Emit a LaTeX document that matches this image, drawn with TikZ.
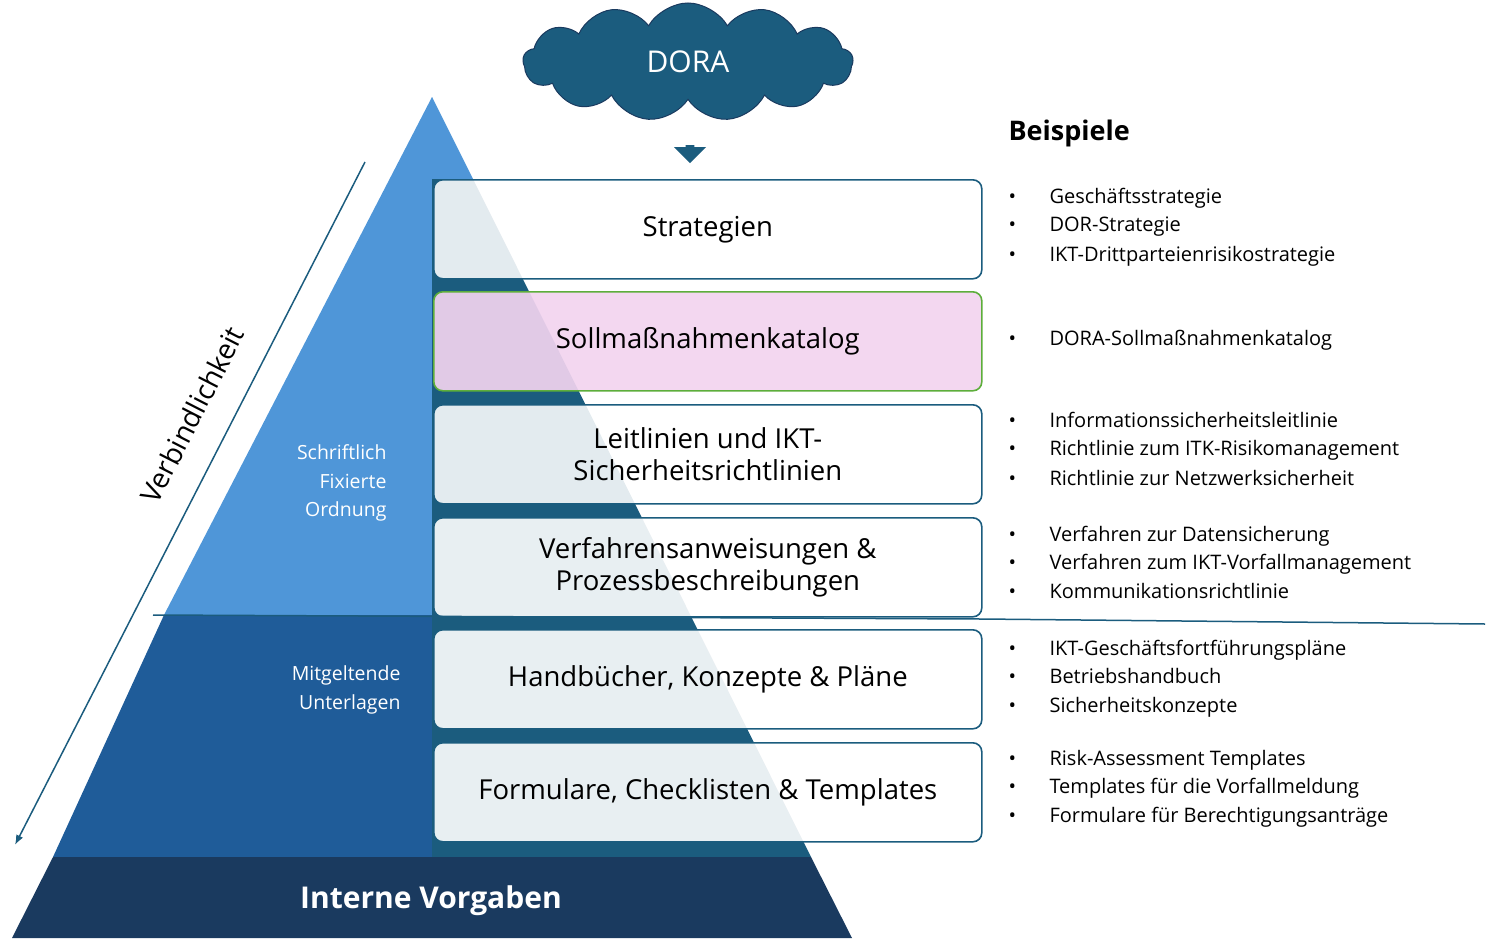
\documentclass[tikz,border=0pt]{standalone}
\usepackage{fontspec}
\setmainfont{Open Sans}
\usetikzlibrary{shapes.symbols,shapes.arrows,arrows.meta}
\definecolor{teal}{HTML}{1B5C7E}
\definecolor{lb}{HTML}{4F96D8}
\definecolor{mb}{HTML}{1F5C99}
\definecolor{nb}{HTML}{1A3A5F}
\definecolor{pk}{HTML}{F2D4EF}
\definecolor{gr}{HTML}{5DAE3B}
\begin{document}
\begin{tikzpicture}[x=1pt,y=-1pt,
  box/.style={draw=teal,line width=1.6pt,rounded corners=9pt,fill=white,fill opacity=0.88,text opacity=1,minimum width=548pt,minimum height=99pt,anchor=north west,align=center,font=\fontsize{27.5}{32}\selectfont},
  bl/.style={anchor=west,font=\fontsize{20}{22}\selectfont,align=left,text height=15pt,text depth=5pt},
  lab/.style={text=white,align=right,anchor=east,font=\fontsize{19.5}{28.5}\selectfont}]
\useasboundingbox (0,0) rectangle (1488,945);
% pyramid
\fill[lb] (432,97) -- (432,615) -- (164,615) -- cycle;
\fill[lb] (432,97) -- (473,179) -- (432,179) -- cycle;
\fill[mb] (164,615) -- (432,615) -- (432,857) -- (53,857) -- cycle;
\fill[teal] (432,179) -- (473,179) -- (811,857) -- (432,857) -- cycle;
\fill[nb] (53,857) -- (811,857) -- (852,938) -- (12,938) -- cycle;
\node[text=white,font=\bfseries\fontsize{30}{32}\selectfont] (iv) at (431,901) {Interne Vorgaben};
% boxes
\node[box] (s1) at (433,179) {Strategien};
\node[box,fill=pk,draw=gr,fill opacity=0.92] (s2) at (433,291) {Sollmaßnahmenkatalog};
\node[box] (s3) at (433,404) {Leitlinien und IKT-\\Sicherheitsrichtlinien};
\node[box,fill opacity=0.9] (s4) at (433,517) {Verfahrensanweisungen \&\\Prozessbeschreibungen};
\node[box,fill opacity=0.9] (s5) at (433,629) {Handbücher, Konzepte \& Pläne};
\node[box,fill opacity=0.9] (s6) at (433,742) {Formulare, Checklisten \& Templates};
% divider
\coordinate (d1) at (153,615);
\coordinate (d2) at (1485,624);
\draw[teal,line width=1.5pt] (d1) -- (981,619) -- (d2);
% cloud
\node[cloud,cloud puffs=13,cloud puff arc=120,aspect=2.8,fill=teal,draw=nb,line width=1pt,minimum width=330pt,minimum height=118pt,text=white,font=\fontsize{30}{32}\selectfont] (dora) at (688,62) {DORA};
\node[single arrow,shape border rotate=270,fill=teal,minimum height=18pt,minimum width=32pt,single arrow head extend=6pt,inner sep=2pt] (ar) at (690,152) {};
% Verbindlichkeit arrow
\coordinate (v1) at (365,162);
\coordinate (v2) at (15,845);
\draw[teal,line width=1.5pt,-{Latex[length=10pt]}] (v1) -- (v2);
\node[rotate=62.9,font=\fontsize{28}{30}\selectfont] (vb) at (192,415) {Verbindlichkeit};
% labels
\node[lab] (l1) at (390,483) {Schriftlich\\Fixierte\\Ordnung};
\node[lab] (l2) at (404,690) {Mitgeltende\\Unterlagen};
% examples
\node[anchor=west,font=\bfseries\fontsize{27}{28}\selectfont] (bs) at (1005,133) {Beispiele};
\foreach \y/\t in {198/Geschäftsstrategie,226/DOR-Strategie,256/IKT-Drittparteienrisikostrategie,340/DORA-Sollmaßnahmenkatalog,422/Informationssicherheitsleitlinie,450/Richtlinie zum ITK-Risikomanagement,480/Richtlinie zur Netzwerksicherheit,536/Verfahren zur Datensicherung,564/Verfahren zum IKT-Vorfallmanagement,593/Kommunikationsrichtlinie,650/IKT-Geschäftsfortführungspläne,678/Betriebshandbuch,707/Sicherheitskonzepte,760/Risk-Assessment Templates,788/Templates für die Vorfallmeldung,817/Formulare für Berechtigungsanträge}{
  \node[bl] at (1005,\y) {\textbullet};
  \node[bl] at (1046,\y) {\t};
}
\end{tikzpicture}
\end{document}
